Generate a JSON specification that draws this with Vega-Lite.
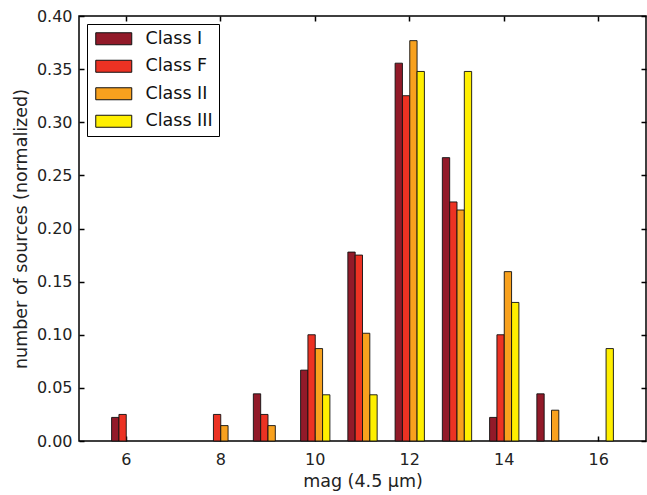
{
  "$schema": "https://vega.github.io/schema/vega-lite/v6.json",
  "width": 567,
  "height": 425,
  "autosize": {"type": "none"},
  "padding": {"left": 79, "top": 16, "right": 1, "bottom": 54},
  "background": "white",
  "config": {
    "font": "DejaVu Sans",
    "view": {"stroke": "black", "strokeWidth": 1.5},
    "axis": {"grid": false, "domain": false, "tickColor": "black", "tickWidth": 1.5, "labelFont": "DejaVu Sans", "titleFont": "DejaVu Sans", "labelColor": "#222", "titleColor": "#222", "labelFontSize": 16, "titleFontSize": 17.5, "titleFontWeight": "normal"}
  },
  "data": {
    "values": [
      {"mag": 6, "class": "Class I", "frac": 0.0222},
      {"mag": 6, "class": "Class F", "frac": 0.025},
      {"mag": 8, "class": "Class F", "frac": 0.025},
      {"mag": 8, "class": "Class II", "frac": 0.0145},
      {"mag": 9, "class": "Class I", "frac": 0.0444},
      {"mag": 9, "class": "Class F", "frac": 0.025},
      {"mag": 9, "class": "Class II", "frac": 0.0145},
      {"mag": 10, "class": "Class I", "frac": 0.0667},
      {"mag": 10, "class": "Class F", "frac": 0.1},
      {"mag": 10, "class": "Class II", "frac": 0.087},
      {"mag": 10, "class": "Class III", "frac": 0.0435},
      {"mag": 11, "class": "Class I", "frac": 0.1778},
      {"mag": 11, "class": "Class F", "frac": 0.175},
      {"mag": 11, "class": "Class II", "frac": 0.1014},
      {"mag": 11, "class": "Class III", "frac": 0.0435},
      {"mag": 12, "class": "Class I", "frac": 0.3556},
      {"mag": 12, "class": "Class F", "frac": 0.325},
      {"mag": 12, "class": "Class II", "frac": 0.3768},
      {"mag": 12, "class": "Class III", "frac": 0.3478},
      {"mag": 13, "class": "Class I", "frac": 0.2667},
      {"mag": 13, "class": "Class F", "frac": 0.225},
      {"mag": 13, "class": "Class II", "frac": 0.2174},
      {"mag": 13, "class": "Class III", "frac": 0.3478},
      {"mag": 14, "class": "Class I", "frac": 0.0222},
      {"mag": 14, "class": "Class F", "frac": 0.1},
      {"mag": 14, "class": "Class II", "frac": 0.1594},
      {"mag": 14, "class": "Class III", "frac": 0.1304},
      {"mag": 15, "class": "Class I", "frac": 0.0444},
      {"mag": 15, "class": "Class II", "frac": 0.029},
      {"mag": 16, "class": "Class III", "frac": 0.087}
    ]
  },
  "layer": [
    {
      "mark": {"type": "bar", "stroke": "#111", "strokeWidth": 1, "strokeOpacity": 0.9},
      "encoding": {
        "x": {
          "field": "mag", "type": "ordinal",
          "scale": {"domain": [6, 7, 8, 9, 10, 11, 12, 13, 14, 15, 16], "paddingInner": 0.38, "paddingOuter": 0.69},
          "axis": {"values": [6, 8, 10, 12, 14, 16], "labelAngle": 0, "bandPosition": 0.5, "tickSize": -5, "labelPadding": 15, "title": "mag (4.5 μm)", "titlePadding": 5, "orient": "bottom"}
        },
        "xOffset": {
          "field": "class", "type": "nominal",
          "scale": {"domain": ["Class I", "Class F", "Class II", "Class III"], "paddingInner": 0, "paddingOuter": 0}
        },
        "y": {
          "field": "frac", "type": "quantitative",
          "scale": {"domain": [0, 0.4], "nice": false, "zero": true},
          "axis": {"values": [0, 0.05, 0.1, 0.15, 0.2, 0.25, 0.3, 0.35, 0.4], "format": ".2f", "tickSize": -5, "labelPadding": 12, "title": "number of sources (normalized)", "titlePadding": 6, "orient": "left"}
        },
        "color": {
          "field": "class", "type": "nominal",
          "scale": {"domain": ["Class I", "Class F", "Class II", "Class III"], "range": ["#921a29", "#ec3223", "#f8a11e", "#ffef00"]},
          "legend": {
            "title": null,
            "orient": "none",
            "legendX": 8,
            "legendY": 8,
            "direction": "vertical",
            "symbolType": "M-3,-1H3V1H-3Z",
            "symbolSize": 144,
            "symbolOffset": 12,
            "symbolStrokeColor": "#111",
            "symbolStrokeWidth": 1,
            "symbolOpacity": 1,
            "labelFontSize": 17.5,
            "labelFont": "DejaVu Sans",
            "labelColor": "#111",
            "labelOffset": 23,
            "rowPadding": 8.5,
            "padding": 6,
            "strokeColor": "black",
            "fillColor": "white",
            "offset": 0
          }
        }
      }
    },
    {
      "mark": {"type": "bar", "opacity": 0},
      "encoding": {
        "x": {
          "field": "mag", "type": "ordinal",
          "axis": {"values": [6, 8, 10, 12, 14, 16], "labels": false, "bandPosition": 0.5, "tickSize": -5, "title": null, "orient": "top"}
        },
        "xOffset": {"field": "class", "type": "nominal"},
        "y": {
          "field": "frac", "type": "quantitative",
          "axis": {"values": [0, 0.05, 0.1, 0.15, 0.2, 0.25, 0.3, 0.35, 0.4], "labels": false, "tickSize": -5, "title": null, "orient": "right"}
        }
      }
    }
  ],
  "resolve": {"axis": {"x": "independent", "y": "independent"}}
}
